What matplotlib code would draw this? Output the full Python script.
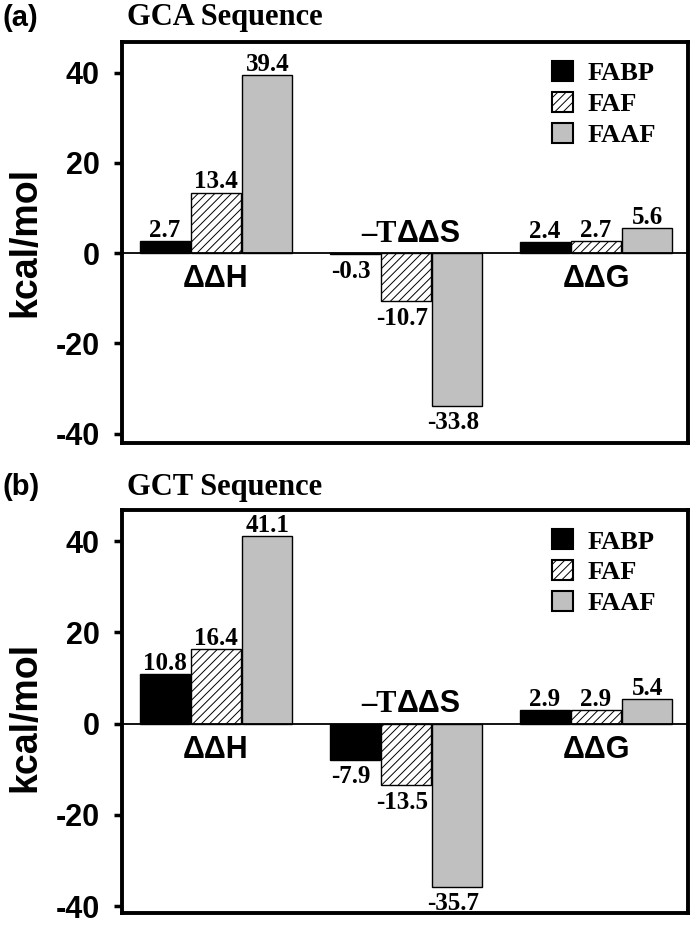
import matplotlib
matplotlib.use('Agg')
import matplotlib.pyplot as plt
import numpy as np
from matplotlib.patches import Patch

# ---------------- data ----------------
categories = ['ΔΔH', '−TΔΔS', 'ΔΔG']
series = ['FABP', 'FAF', 'FAAF']
gca_fabp = [2.7, -0.3, 2.4]
gca_faf = [13.4, -10.7, 2.7]
gca_faaf = [39.4, -33.8, 5.6]
gct_fabp = [10.8, -7.9, 2.9]
gct_faf = [16.4, -13.5, 2.9]
gct_faaf = [41.1, -35.7, 5.4]
yticks = [-40, -20, 0, 20, 40]
panel_titles = ['GCA Sequence', 'GCT Sequence']
panel_tags = ['(a)', '(b)']

SANS = 'Liberation Sans'
SERIF = 'Liberation Serif'
plt.rcParams['hatch.linewidth'] = 0.7

W, H = 693, 927
fig = plt.figure(figsize=(W / 100, H / 100), dpi=100)

styles = [dict(facecolor='black', edgecolor='black', hatch=None),
          dict(facecolor='white', edgecolor='black', hatch='////'),
          dict(facecolor='#c0c0c0', edgecolor='black', hatch=None)]

def px_axes(left, top, right, bottom):
    return fig.add_axes([left / W, 1 - bottom / H, (right - left) / W, (bottom - top) / H])

panels = [
    dict(box=(122, 42, 688, 443), ylim=(-42.1, 46.8), data=[gca_fabp, gca_faf, gca_faaf],
         ty=18, ylab_y=242),
    dict(box=(122, 510, 688, 913), ylim=(-41.5, 46.8), data=[gct_fabp, gct_faf, gct_faaf],
         ty=487, ylab_y=717),
]

x = np.arange(len(categories))
offsets = [-0.27, 0.0, 0.27]
bw = 0.262

for pi, p in enumerate(panels):
    ax = px_axes(*p['box'])
    handles = []
    for si, vals in enumerate(p['data']):
        st = styles[si]
        ax.bar(x + offsets[si], vals, bw, facecolor=st['facecolor'],
               edgecolor=st['edgecolor'], hatch=st['hatch'], linewidth=1.0, zorder=2)
        for xi, v in zip(x + offsets[si], vals):
            if v >= 0:
                ax.annotate(f'{v:.1f}', (xi, v), xytext=(0, 3), textcoords='offset points',
                            ha='center', va='baseline', fontsize=18,
                            fontfamily=SERIF, fontweight='bold')
            else:
                ax.annotate(f'{v:.1f}', (xi - 0.02, v), xytext=(0, -4), textcoords='offset points',
                            ha='center', va='top', fontsize=18,
                            fontfamily=SERIF, fontweight='bold')
        handles.append(Patch(facecolor=st['facecolor'], edgecolor='black',
                             hatch=st['hatch'], linewidth=1.5))
    ax.axhline(0, color='black', lw=1.3, zorder=3)
    ax.set_xlim(-0.495, 2.484)
    ax.set_ylim(*p['ylim'])
    ax.set_yticks(yticks)
    ax.set_yticklabels([str(t) for t in yticks], fontfamily=SANS, fontweight='bold', fontsize=22)
    ax.set_xticks([])
    ax.tick_params(axis='y', direction='out', length=6, width=2.5, pad=10)
    for s in ax.spines.values():
        s.set_linewidth(2.8)

    # category labels
    for ci in [0, 2]:
        ax.annotate(categories[ci], (x[ci], 0), xytext=(0, -8), textcoords='offset points',
                    ha='center', va='top', fontsize=22, fontfamily=SANS, fontweight='bold')
    # -TΔΔS : serif "–T" + sans "ΔΔS"
    ax.annotate('–T', (x[1], 0), xytext=(-7, 8), textcoords='offset points',
                ha='right', va='baseline', fontsize=22, fontfamily=SERIF, fontweight='bold')
    ax.annotate('ΔΔS', (x[1], 0), xytext=(-7, 8), textcoords='offset points',
                ha='left', va='baseline', fontsize=22, fontfamily=SANS, fontweight='bold')

    ax.legend(handles, series, loc='upper left', bbox_to_anchor=(0.737, 0.985),
              frameon=False, borderpad=0, handlelength=0.8, handleheight=0.8,
              handletextpad=0.55, labelspacing=0.25,
              prop=dict(family=SERIF, weight='bold', size=19))

    fig.text(3 / W, 1 - p['ty'] / H, panel_tags[pi], fontfamily=SANS, fontweight='bold',
             fontsize=21, ha='left', va='center')
    fig.text(127 / W, 1 - p['ty'] / H, panel_titles[pi], fontfamily=SERIF, fontweight='bold',
             fontsize=22, ha='left', va='center')
    fig.text(25 / W, 1 - p['ylab_y'] / H, 'kcal/mol', fontfamily=SANS, fontweight='bold',
             fontsize=27, rotation=90, ha='center', va='center')

fig.savefig('out.png', dpi=100)
